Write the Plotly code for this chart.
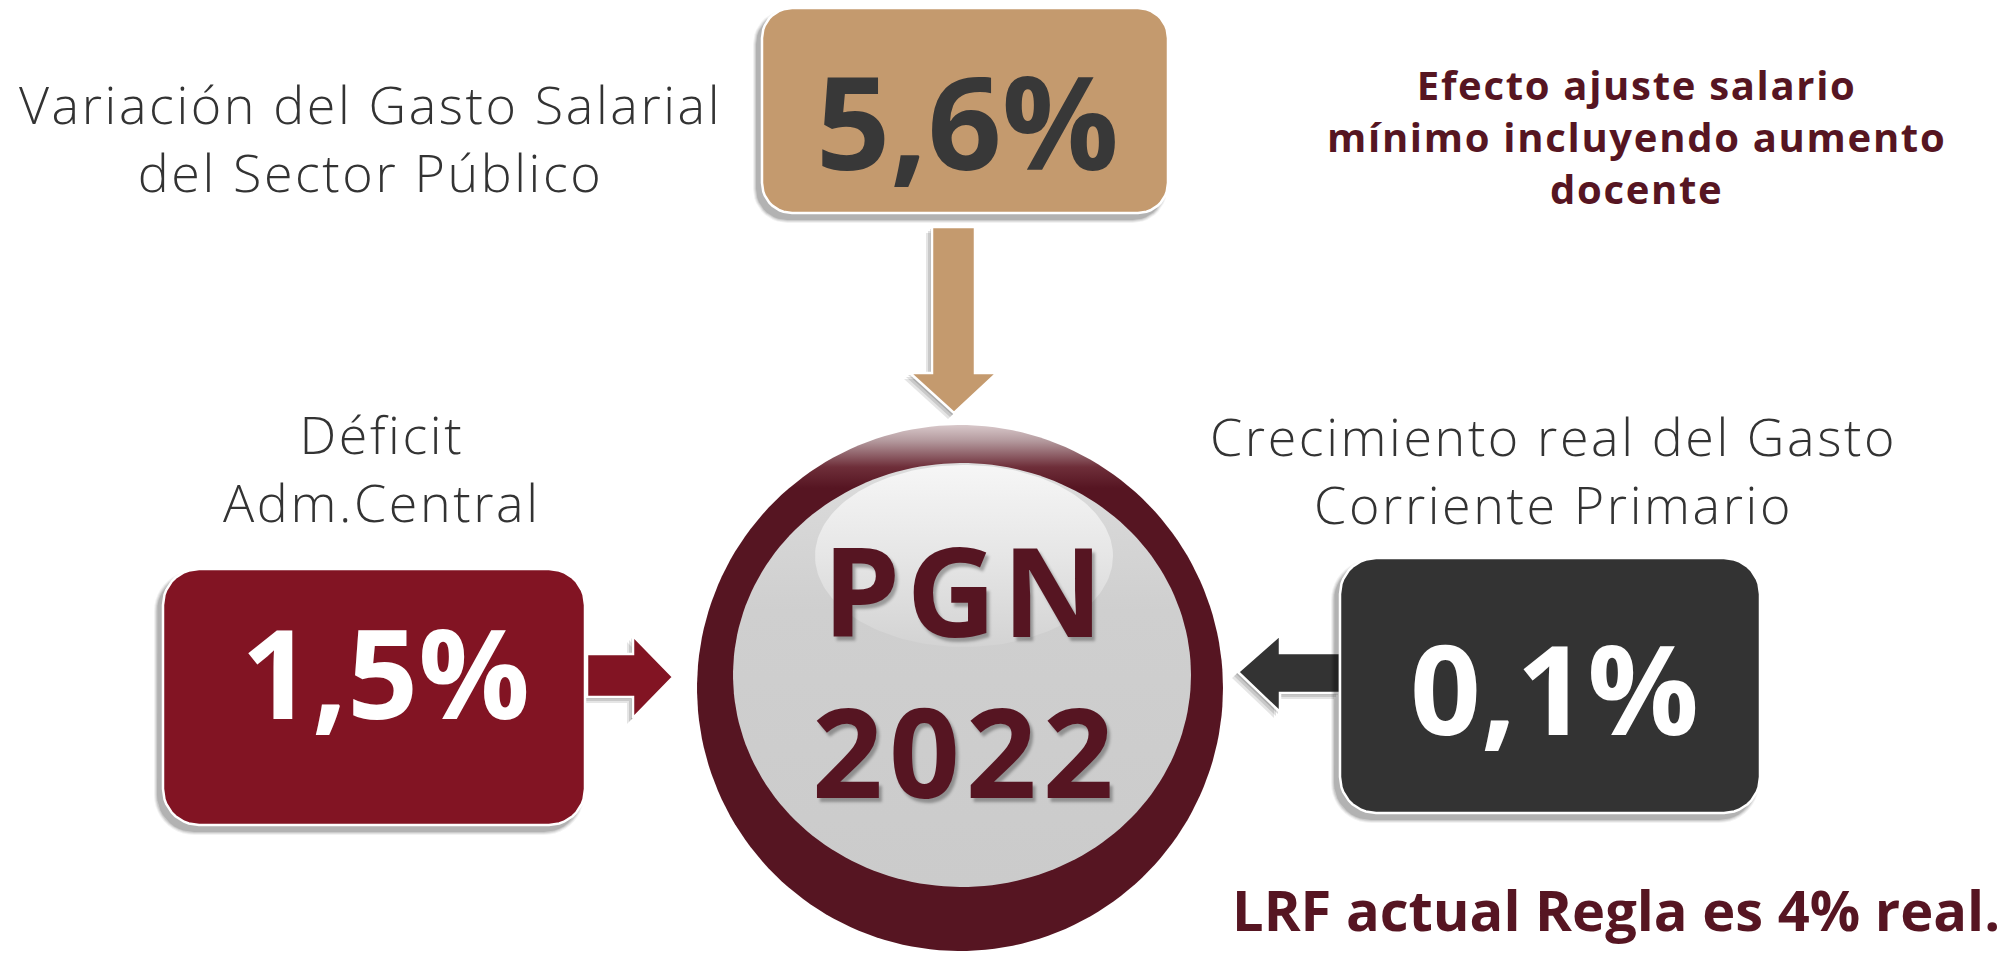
import numpy as np
import plotly.graph_objects as go

# ---------------- data (text content of the infographic) ----------------
values = [5.6, 1.5, 0.1]                       # % shown in the three boxes
value_names = ["salarial", "deficit", "gasto"]
captions = [
    ["Variación del Gasto Salarial", "del Sector Público"],
    ["Déficit", "Adm.Central"],
    ["Crecimiento real del Gasto", "Corriente Primario"],
]
center_lines = ["PGN", "2022"]
note_top = ["Efecto ajuste salario", "mínimo incluyendo aumento", "docente"]
note_bottom = "LRF actual Regla es 4% real."

value_labels = [f"{v:.1f}%".replace(".", ",") for v in values]

# ---------------- layout / styles ----------------
W, H = 2002, 959
FONT = "'Open Sans', 'Noto Sans', sans-serif"
TAN, MAROON, DARK, RING, TXT, NOTE = "#c49a6e", "#821423", "#333333", "#561522", "#383838", "#561522"

boxes = {  # x0, y0, x1, y1, radius, fill, text colour, text centre, text size
    "salarial": dict(r=(762, 8, 1168, 213), rad=30, fill=TAN, tc=TXT, tx=967, ty=119, fs=130),
    "deficit": dict(r=(163, 569, 585, 825), rad=36, fill=MAROON, tc="white", tx=385, ty=670, fs=124),
    "gasto": dict(r=(1340, 558, 1760, 813), rad=36, fill=DARK, tc="white", tx=1554, ty=686, fs=124),
}
arrows = {
    "salarial": ([932, 975, 975, 997, 954, 910, 932], [227, 227, 373, 373, 413, 373, 373], TAN),
    "deficit": ([587, 633, 633, 673, 633, 633, 587], [654, 654, 636, 677, 718, 697, 697], MAROON),
    "gasto": ([1340, 1280, 1280, 1238, 1280, 1280, 1340], [653, 653, 635, 672, 712, 693, 693], DARK),
}
caption_pos = [(370, 137), (382, 467), (1553, 469)]
note_top_pos = (1636, 136)
center_pos = (966, 669)


def rrect(x0, y0, x1, y1, r, n=12):
    xs, ys = [], []
    for cx, cy, a0, a1 in [(x1 - r, y0 + r, -90, 0), (x1 - r, y1 - r, 0, 90),
                           (x0 + r, y1 - r, 90, 180), (x0 + r, y0 + r, 180, 270)]:
        t = np.radians(np.linspace(a0, a1, n))
        xs += list(cx + r * np.cos(t))
        ys += list(cy + r * np.sin(t))
    return xs + [xs[0]], ys + [ys[0]]


def ellipse(cx, cy, rx, ry, n=180):
    t = np.linspace(0, 2 * np.pi, n)
    return list(cx + rx * np.cos(t)), list(cy + ry * np.sin(t))


fig = go.Figure()


def poly(xs, ys, fill, line="rgba(0,0,0,0)", lw=0, grad=None):
    kw = dict(x=xs, y=ys, mode="lines", fill="toself", hoverinfo="skip",
              showlegend=False, line=dict(color=line, width=lw))
    if grad is not None:
        kw["fillgradient"] = grad
    else:
        kw["fillcolor"] = fill
    fig.add_trace(go.Scatter(**kw))


# shadows + arrows
for name in value_names:
    ax, ay, col = arrows[name]
    for k, a in [(6, 0.10), (4, 0.12), (2, 0.14)]:
        poly([x - k for x in ax + [ax[0]]], [y + k for y in ay + [ay[0]]], f"rgba(0,0,0,{a})")
    poly(ax + [ax[0]], ay + [ay[0]], col, "white", 2.5)

# shadows + boxes
for name in value_names:
    b = boxes[name]
    x0, y0, x1, y1 = b["r"]
    for e, a in [(8, 0.05), (6, 0.07), (4, 0.09), (2, 0.12)]:
        xs, ys = rrect(x0 - 5 - e / 2, y0 + 6 - e / 2, x1 - 5 + e / 2, y1 + 6 + e / 2, b["rad"] + e / 2)
        poly(xs, ys, f"rgba(0,0,0,{a})")
    xs, ys = rrect(x0, y0, x1, y1, b["rad"])
    poly(xs, ys, b["fill"], "white", 2.5)

# central circle
xs, ys = ellipse(960, 688, 263, 263)
poly(xs, ys, RING, grad=dict(type="vertical", start=425, stop=951,
                             colorscale=[[0, "#d8c8ca"], [0.03, "#b49a9e"], [0.08, "#6e2e39"],
                                         [0.12, RING], [1, RING]]))
xs, ys = ellipse(962, 675, 229, 212)
poly(xs, ys, "#cccccc", grad=dict(type="vertical", start=463, stop=887,
                                  colorscale=[[0, "#dcdcdc"], [0.35, "#cfcfcf"], [1, "#cbcbcb"]]))
xs, ys = ellipse(964, 556, 149, 91)
poly(xs, ys, "#e8e8e8", grad=dict(type="vertical", start=465, stop=647,
                                  colorscale=[[0, "#f6f6f6"], [0.5, "#e6e6e6"], [1, "#d3d3d3"]]))

# ---------------- text ----------------
ann = []


def spaced(lines, px):
    return "<br>".join(f"<span style='letter-spacing:{px}px'>{ln}</span>" for ln in lines)


def text(x, y, t, size, color, weight, shadow=None):
    f = dict(family=FONT, size=size, color=color, weight=weight)
    if shadow:
        f["shadow"] = shadow
    ann.append(dict(x=x, y=y, text=t, showarrow=False, xanchor="center", yanchor="middle", font=f))


for name, lab in zip(value_names, value_labels):
    b = boxes[name]
    text(b["tx"], b["ty"], lab, b["fs"], b["tc"], 700)

for (cx, cy), lines in zip(caption_pos, captions):
    text(cx, cy, spaced(lines, 2.6), 52, "#333333", 300)

text(center_pos[0], center_pos[1], spaced(center_lines, 6), 124, RING, 700,
     shadow="3px 4px 3px rgba(0,0,0,0.3)")

text(note_top_pos[0], note_top_pos[1], spaced(note_top, 1.7), 40, NOTE, 700)
text(1616, 909, note_bottom, 56, NOTE, 700)

fig.update_layout(
    width=W, height=H, margin=dict(l=0, r=0, t=0, b=0),
    paper_bgcolor="white", plot_bgcolor="white", showlegend=False,
    annotations=ann,
    xaxis=dict(range=[0, W], visible=False, fixedrange=True),
    yaxis=dict(range=[H, 0], visible=False, fixedrange=True),
)

fig.write_html("out.html", config={"displayModeBar": False},
               post_script="document.body.style.margin='0';document.body.style.overflow='hidden';")
